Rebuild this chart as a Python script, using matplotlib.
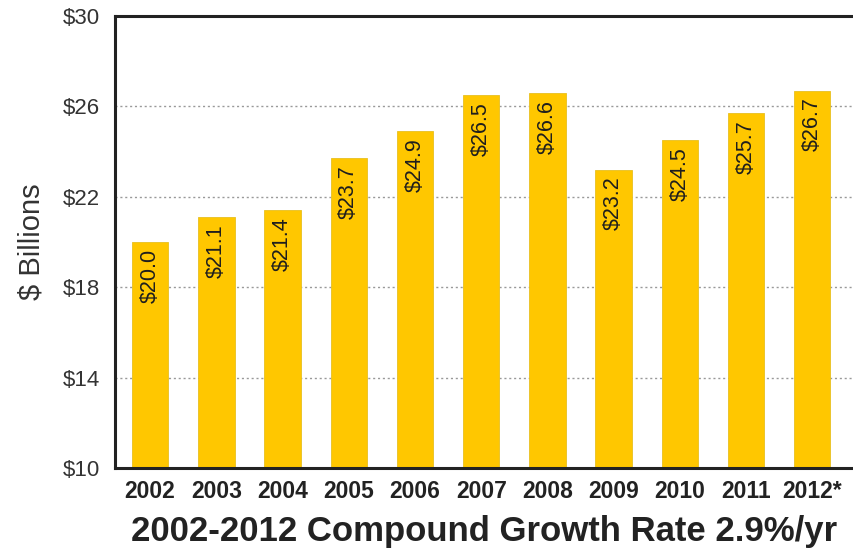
import matplotlib
matplotlib.use('Agg')
from matplotlib import pyplot as plt

# Values
years = ['2002', '2003', '2004', '2005', '2006', '2007',
         '2008', '2009', '2010', '2011', '2012*']
values = [20.0, 21.1, 21.4, 23.7, 24.9, 26.5, 26.6, 23.2, 24.5, 25.7, 26.7]
value_labels = ['$20.0', '$21.1', '$21.4', '$23.7', '$24.9', '$26.5',
                '$26.6', '$23.2', '$24.5', '$25.7', '$26.7']
y_ticks = [10, 14, 18, 22, 26, 30]
y_tick_labels = ['$10', '$14', '$18', '$22', '$26', '$30']

BAR_COLOR = '#FFC700'

plt.rcParams['font.family'] = ['Liberation Sans', 'DejaVu Sans']

fig = plt.figure(figsize=(8.54, 5.55), dpi=100)
ax = fig.add_axes([115 / 854, 1 - 468 / 555, 1 - 115 / 854, (468 - 16) / 555])

x = list(range(len(years)))
ax.bar(x, [v - 10 for v in values], bottom=10, width=0.55,
       color=BAR_COLOR, edgecolor='#E8C020', linewidth=0.6, zorder=2)

for xi, v, lab in zip(x, values, value_labels):
    ax.annotate(lab, (xi, v), xytext=(0, -5), textcoords='offset points',
                rotation=90, ha='center', va='top', fontsize=15.5,
                color='#1e1e1e', zorder=3)

ax.set_xlim(-0.53, 10.63)
ax.set_ylim(10, 30)
ax.set_yticks(y_ticks)
ax.set_yticklabels(y_tick_labels, fontsize=16, color='#333333')
ax.set_xticks(x)
ax.set_xticklabels(years, fontsize=16.5, fontweight='bold', color='#222222')
ax.tick_params(axis='both', length=0)
ax.tick_params(axis='y', pad=11)
ax.tick_params(axis='x', pad=9)

for yv in y_ticks[1:-1]:
    ax.axhline(yv, color='#999999', linestyle=(0, (1.5, 2)), linewidth=1.0,
               zorder=1)

for side in ['left', 'top', 'bottom']:
    ax.spines[side].set_linewidth(2.2)
    ax.spines[side].set_color('#222222')
ax.spines['right'].set_visible(False)

ax.set_ylabel('$ Billions', fontsize=21, color='#333333', labelpad=12)
ax.set_xlabel('2002-2012 Compound Growth Rate 2.9%/yr', fontsize=25,
              fontweight='bold', color='#222222', labelpad=8)

plt.savefig('out.png', dpi=100)
